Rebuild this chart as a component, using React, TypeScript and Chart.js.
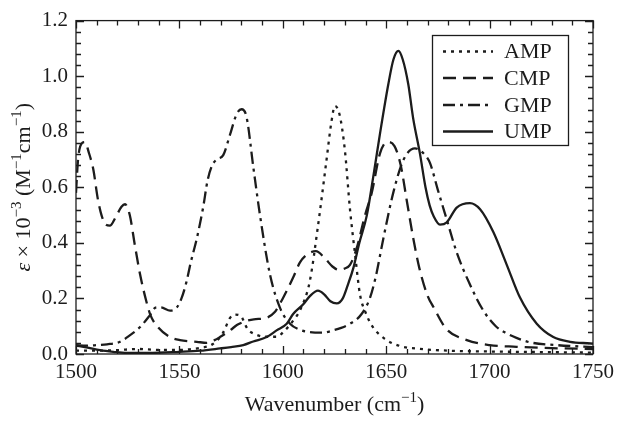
import React, { useEffect, useRef } from "react";
import { Chart, registerables } from "chart.js";

Chart.register(...registerables);

// ---- Data ----
const seriesNames = ["AMP", "CMP", "GMP", "UMP"];

const ampX = [1500, 1510, 1520, 1530, 1540, 1550, 1560, 1566, 1571, 1574.5, 1577, 1579.5, 1583, 1587, 1592, 1597, 1601, 1605, 1608.5, 1613, 1617, 1621, 1623.6, 1625.2, 1627.5, 1630, 1632.5, 1635, 1637.3, 1640, 1643, 1649, 1657, 1664, 1680, 1700, 1725, 1750];
const ampY = [0.012, 0.012, 0.014, 0.018, 0.015, 0.015, 0.022, 0.035, 0.075, 0.13, 0.142, 0.138, 0.09, 0.07, 0.062, 0.062, 0.085, 0.12, 0.16, 0.26, 0.46, 0.69, 0.84, 0.893, 0.86, 0.735, 0.52, 0.355, 0.215, 0.15, 0.103, 0.056, 0.028, 0.02, 0.012, 0.009, 0.007, 0.005];

const cmpX = [1500, 1501, 1503, 1504.5, 1506, 1508.4, 1510.5, 1512.4, 1514.5, 1516.4, 1519, 1522, 1523.7, 1526, 1528.5, 1531, 1534, 1536, 1539.8, 1545.5, 1550.3, 1558.4, 1563.2, 1567, 1569.6, 1574.5, 1578, 1582, 1586, 1592, 1596, 1600, 1605, 1608.3, 1612, 1616, 1620.4, 1624, 1627, 1630, 1632.5, 1635.7, 1639.7, 1643, 1647, 1650.5, 1654, 1657, 1660, 1663, 1666, 1670, 1673, 1679, 1689, 1700, 1713, 1726, 1750];
const cmpY = [0.58, 0.7, 0.76, 0.763, 0.73, 0.663, 0.56, 0.498, 0.465, 0.462, 0.49, 0.53, 0.539, 0.5, 0.39, 0.286, 0.19, 0.14, 0.095, 0.061, 0.05, 0.044, 0.04, 0.05, 0.061, 0.085, 0.105, 0.118, 0.125, 0.13, 0.15, 0.2, 0.275, 0.33, 0.36, 0.37, 0.344, 0.315, 0.303, 0.308, 0.321, 0.38, 0.498, 0.58, 0.722, 0.763, 0.748, 0.68, 0.55, 0.42, 0.31, 0.21, 0.167, 0.091, 0.05, 0.032, 0.026, 0.022, 0.018];

const gmpX = [1500, 1505, 1510, 1515, 1521.3, 1526, 1531, 1535.8, 1538.5, 1541, 1545.5, 1548.7, 1551, 1553.5, 1555.5, 1558.4, 1561.6, 1563.5, 1565.6, 1568, 1571.2, 1574.5, 1577.7, 1580.1, 1582.5, 1585.7, 1589, 1593.8, 1598.6, 1603.5, 1608, 1613, 1619, 1624.3, 1632.5, 1638.1, 1642.2, 1645, 1648.6, 1653.4, 1658.3, 1663.9, 1668.8, 1671.2, 1675, 1679.2, 1684, 1690.5, 1697, 1703, 1708, 1713, 1719.5, 1732.4, 1750];
const gmpY = [0.032, 0.03, 0.032, 0.035, 0.044, 0.067, 0.097, 0.14, 0.167, 0.168, 0.156, 0.167, 0.2, 0.262, 0.33, 0.415, 0.533, 0.62, 0.675, 0.7, 0.716, 0.79, 0.864, 0.881, 0.852, 0.675, 0.498, 0.286, 0.167, 0.109, 0.088, 0.079, 0.077, 0.085, 0.109, 0.144, 0.203, 0.28, 0.415, 0.58, 0.698, 0.74, 0.716, 0.687, 0.59, 0.486, 0.368, 0.25, 0.156, 0.1, 0.075, 0.058, 0.042, 0.032, 0.025];

const umpX = [1500, 1505, 1511.6, 1518, 1524.5, 1535, 1550, 1560, 1569.6, 1575, 1580.9, 1585.7, 1592.2, 1597, 1601.9, 1605, 1609.9, 1613.2, 1617, 1620, 1623, 1626.1, 1629, 1631.5, 1634.1, 1637, 1640.6, 1644, 1647, 1651, 1653.5, 1655.9, 1658, 1660.7, 1663, 1666.3, 1669, 1671, 1673, 1676, 1679.3, 1684.1, 1690.5, 1695.4, 1701.8, 1708.3, 1714.7, 1722.8, 1730.8, 1738.9, 1748.5, 1750];
const umpY = [0.03, 0.024, 0.014, 0.008, 0.004, 0.004, 0.008, 0.012, 0.02, 0.025, 0.032, 0.045, 0.061, 0.085, 0.109, 0.144, 0.179, 0.209, 0.228, 0.215, 0.19, 0.182, 0.2, 0.25, 0.309, 0.4, 0.498, 0.65, 0.793, 0.97, 1.06, 1.091, 1.06, 0.97, 0.85, 0.722, 0.6, 0.535, 0.495, 0.466, 0.474, 0.527, 0.543, 0.521, 0.439, 0.321, 0.203, 0.109, 0.061, 0.044, 0.038, 0.037];

const xMin = 1500, xMax = 1750, xMajor = 50, xMinor = 10;
const yMin = 0, yMax = 1.2, yMajor = 0.2, yMinor = 0.04;

const dashes: number[][] = [[3, 5], [13, 7], [12, 5, 3, 5], []];

const FONT = '"Liberation Serif", "Times New Roman", serif';
const INK = "#1c1c1c";

type Seg = { t: string; sup?: boolean; it?: boolean };
const xTitle: Seg[] = [{ t: "Wavenumber (cm" }, { t: "\u22121", sup: true }, { t: ")" }];
const yTitle: Seg[] = [
  { t: "\u03b5", it: true }, { t: " \u00d7 10" }, { t: "\u22123", sup: true },
  { t: " (M" }, { t: "\u22121", sup: true }, { t: "cm" }, { t: "\u22121", sup: true }, { t: ")" },
];

function segFont(s: Seg, size: number) {
  const sz = s.sup ? Math.round(size * 0.68) : size;
  return `${s.it ? "italic " : ""}${sz}px ${FONT}`;
}
function drawRich(ctx: CanvasRenderingContext2D, segs: Seg[], cx: number, baseY: number, size: number) {
  let w = 0;
  for (const s of segs) { ctx.font = segFont(s, size); w += ctx.measureText(s.t).width; }
  let x = cx - w / 2;
  ctx.textBaseline = "alphabetic";
  ctx.textAlign = "left";
  for (const s of segs) {
    ctx.font = segFont(s, size);
    ctx.fillText(s.t, x, s.sup ? baseY - size * 0.42 : baseY);
    x += ctx.measureText(s.t).width;
  }
}

const framePlugin = {
  id: "frameTicks",
  afterDatasetsDraw(chart: any) {
    const { ctx, chartArea: a, scales } = chart;
    const xs = scales.x, ys = scales.y;
    ctx.save();
    ctx.strokeStyle = INK;
    ctx.lineWidth = 1.3;
    ctx.setLineDash([]);
    ctx.strokeRect(a.left, a.top, a.right - a.left, a.bottom - a.top);
    ctx.beginPath();
    const nx = Math.round((xMax - xMin) / xMinor);
    for (let i = 0; i <= nx; i++) {
      const v = xMin + i * xMinor;
      const px = Math.round(xs.getPixelForValue(v)) + 0.5;
      const len = Math.abs((v - xMin) % xMajor) < 1e-6 ? 8 : 5;
      ctx.moveTo(px, a.bottom); ctx.lineTo(px, a.bottom - len);
      ctx.moveTo(px, a.top); ctx.lineTo(px, a.top + len);
    }
    const ny = Math.round((yMax - yMin) / yMinor);
    for (let i = 0; i <= ny; i++) {
      const v = yMin + i * yMinor;
      const py = Math.round(ys.getPixelForValue(v)) + 0.5;
      const r = (v / yMajor);
      const len = Math.abs(r - Math.round(r)) < 1e-6 ? 8 : 5;
      ctx.moveTo(a.left, py); ctx.lineTo(a.left + len, py);
      ctx.moveTo(a.right, py); ctx.lineTo(a.right - len, py);
    }
    ctx.stroke();

    // axis titles
    ctx.fillStyle = INK;
    drawRich(ctx, xTitle, (a.left + a.right) / 2, 411, 22);
    ctx.save();
    ctx.translate(30, (a.top + a.bottom) / 2);
    ctx.rotate(-Math.PI / 2);
    drawRich(ctx, yTitle, 0, 0, 22);
    ctx.restore();

    // legend
    const bx = 432, by = 35, bw = 136, bh = 110;
    ctx.fillStyle = "#fff";
    ctx.fillRect(bx, by, bw, bh);
    ctx.lineWidth = 1.3;
    ctx.strokeRect(bx + 0.5, by + 0.5, bw, bh);
    const rowY = [51.5, 78, 105, 131.5];
    seriesNames.forEach((name, i) => {
      ctx.beginPath();
      ctx.lineWidth = 2.6;
      ctx.setLineDash(dashes[i]);
      ctx.moveTo(443, rowY[i]);
      ctx.lineTo(493, rowY[i]);
      ctx.stroke();
      ctx.setLineDash([]);
      ctx.fillStyle = INK;
      ctx.font = `22px ${FONT}`;
      ctx.textAlign = "left";
      ctx.textBaseline = "middle";
      ctx.fillText(name, 504, rowY[i] + 1);
    });
    ctx.restore();
  },
};

export default function App() {
  const ref = useRef<HTMLCanvasElement | null>(null);
  useEffect(() => {
    if (!ref.current) return;
    const xsArr = [ampX, cmpX, gmpX, umpX];
    const ysArr = [ampY, cmpY, gmpY, umpY];
    const chart = new Chart(ref.current, {
      type: "line",
      data: {
        datasets: seriesNames.map((name, i) => ({
          label: name,
          data: xsArr[i].map((x, j) => ({ x, y: ysArr[i][j] })),
          borderColor: INK,
          borderWidth: 2.3,
          borderDash: dashes[i],
          pointRadius: 0,
          fill: false,
          cubicInterpolationMode: "monotone" as const,
        })),
      },
      options: {
        animation: false,
        responsive: false,
        devicePixelRatio: 1,
        layout: { padding: { top: 15, right: 31, left: 0, bottom: 0 } },
        plugins: { legend: { display: false }, tooltip: { enabled: false } },
        scales: {
          x: {
            type: "linear",
            min: xMin,
            max: xMax,
            grid: { display: false, drawTicks: false },
            border: { display: false },
            ticks: {
              stepSize: xMajor,
              padding: 6,
              color: INK,
              font: { family: FONT, size: 21 },
              maxRotation: 0,
              callback: (v: any) => String(v),
            },
            afterFit: (s: any) => { s.height = 68; },
          },
          y: {
            type: "linear",
            min: yMin,
            max: yMax,
            grid: { display: false, drawTicks: false },
            border: { display: false },
            ticks: {
              stepSize: yMajor,
              padding: 8,
              color: INK,
              font: { family: FONT, size: 21 },
              callback: (v: any) => Number(v).toFixed(1),
            },
            afterFit: (s: any) => { s.width = 76; },
          },
        },
      },
      plugins: [framePlugin],
    });
    return () => chart.destroy();
  }, []);
  return (
    <div style={{ position: "absolute", left: 0, top: 0, width: 624, height: 422, background: "#fff" }}>
      <canvas ref={ref} width={624} height={422} />
    </div>
  );
}
